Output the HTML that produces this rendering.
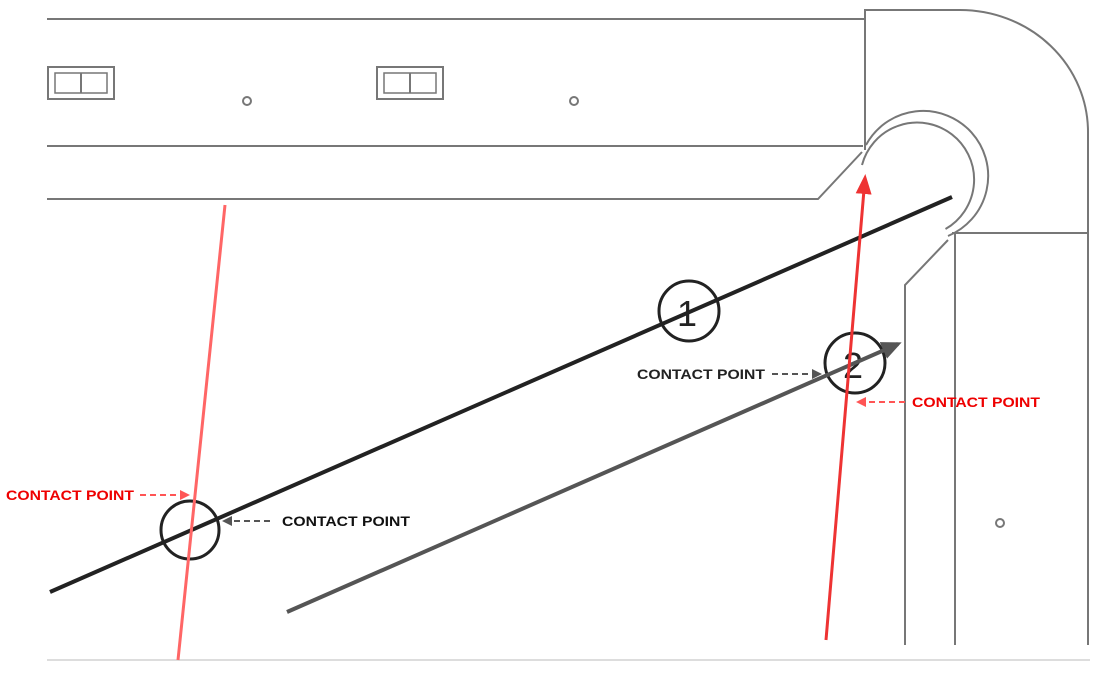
<!DOCTYPE html>
<html><head><meta charset="utf-8"><style>
html,body{margin:0;padding:0;background:#fff;}
svg{display:block;}
text{font-family:"Liberation Sans",Arial,sans-serif;font-weight:bold;font-size:14px;}
</style></head><body>
<svg width="1096" height="673" viewBox="0 0 1096 673" xmlns="http://www.w3.org/2000/svg">
<defs>
<marker id="ag" markerWidth="10" markerHeight="10" refX="8" refY="5" orient="auto" markerUnits="userSpaceOnUse"><path d="M0,0 L10,5 L0,10 z" fill="#555"/></marker>
<marker id="ar" markerWidth="10" markerHeight="10" refX="8" refY="5" orient="auto" markerUnits="userSpaceOnUse"><path d="M0,0 L10,5 L0,10 z" fill="#f55"/></marker>
<marker id="ag2" markerWidth="20" markerHeight="18" refX="16" refY="9" orient="auto" markerUnits="userSpaceOnUse"><path d="M0,0 L20,9 L0,18 z" fill="#555"/></marker>
<marker id="ar2" markerWidth="20" markerHeight="16" refX="16" refY="8" orient="auto" markerUnits="userSpaceOnUse"><path d="M0,0 L20,8 L0,16 z" fill="#e33"/></marker>
</defs>
<g stroke="#777" stroke-width="2" fill="none">
<line x1="47" y1="19" x2="865" y2="19"/>
<line x1="47" y1="146" x2="863" y2="146"/>
<polyline points="47,199 818,199 862,152"/>
<path d="M865,150 L865,10 L960,10 A128,122 0 0 1 1088,132 L1088,233 L952,233"/>
<path d="M862,165 A57,57 0 1 1 945.5,229"/>
<path d="M866,145 A65,65 0 1 1 948,236"/>
<polyline points="905,645 905,285 948,240"/>
<line x1="955" y1="233" x2="955" y2="645"/>
<line x1="1088" y1="233" x2="1088" y2="645"/>
<rect x="48" y="67" width="66" height="32" stroke-width="2"/>
<rect x="55" y="73" width="52" height="20" stroke-width="1.5"/>
<line x1="81" y1="73" x2="81" y2="93"/>
<rect x="377" y="67" width="66" height="32"/>
<rect x="384" y="73" width="52" height="20" stroke-width="1.5"/>
<line x1="410" y1="73" x2="410" y2="93"/>
<circle cx="247" cy="101" r="4"/>
<circle cx="574" cy="101" r="4"/>
<circle cx="1000" cy="523" r="4"/>
</g>
<line x1="47" y1="660" x2="1090" y2="660" stroke="#ddd" stroke-width="2"/>
<g stroke="#222" stroke-width="3" fill="none">
<circle cx="190" cy="530" r="29"/>
<circle cx="689" cy="311" r="30"/>
<circle cx="855" cy="363" r="30"/>
</g>
<text x="677" y="326" fill="#222" style="font-size:36px;font-weight:normal">1</text>
<text x="843" y="378" fill="#222" style="font-size:36px;font-weight:normal">2</text>
<line x1="50" y1="592" x2="952" y2="197" stroke="#222" stroke-width="4"/>
<line x1="287" y1="612" x2="898" y2="344" stroke="#555" stroke-width="4" marker-end="url(#ag2)"/>
<line x1="225" y1="205" x2="178" y2="660" stroke="#f66" stroke-width="3"/>
<line x1="826" y1="640" x2="865" y2="178" stroke="#e33" stroke-width="3" marker-end="url(#ar2)"/>
<text x="6" y="500" fill="#e00" textLength="128" lengthAdjust="spacingAndGlyphs">CONTACT POINT</text>
<line x1="140" y1="495" x2="188" y2="495" stroke="#f55" stroke-width="2" stroke-dasharray="6,4" marker-end="url(#ar)"/>
<text x="282" y="526" fill="#111" textLength="128" lengthAdjust="spacingAndGlyphs">CONTACT POINT</text>
<line x1="270" y1="521" x2="224" y2="521" stroke="#555" stroke-width="2" stroke-dasharray="6,4" marker-end="url(#ag)"/>
<text x="637" y="379" fill="#222" textLength="128" lengthAdjust="spacingAndGlyphs">CONTACT POINT</text>
<line x1="772" y1="374" x2="820" y2="374" stroke="#555" stroke-width="2" stroke-dasharray="6,4" marker-end="url(#ag)"/>
<text x="912" y="407" fill="#e00" textLength="128" lengthAdjust="spacingAndGlyphs">CONTACT POINT</text>
<line x1="905" y1="402" x2="858" y2="402" stroke="#f55" stroke-width="2" stroke-dasharray="6,4" marker-end="url(#ar)"/>
</svg>
</body></html>
